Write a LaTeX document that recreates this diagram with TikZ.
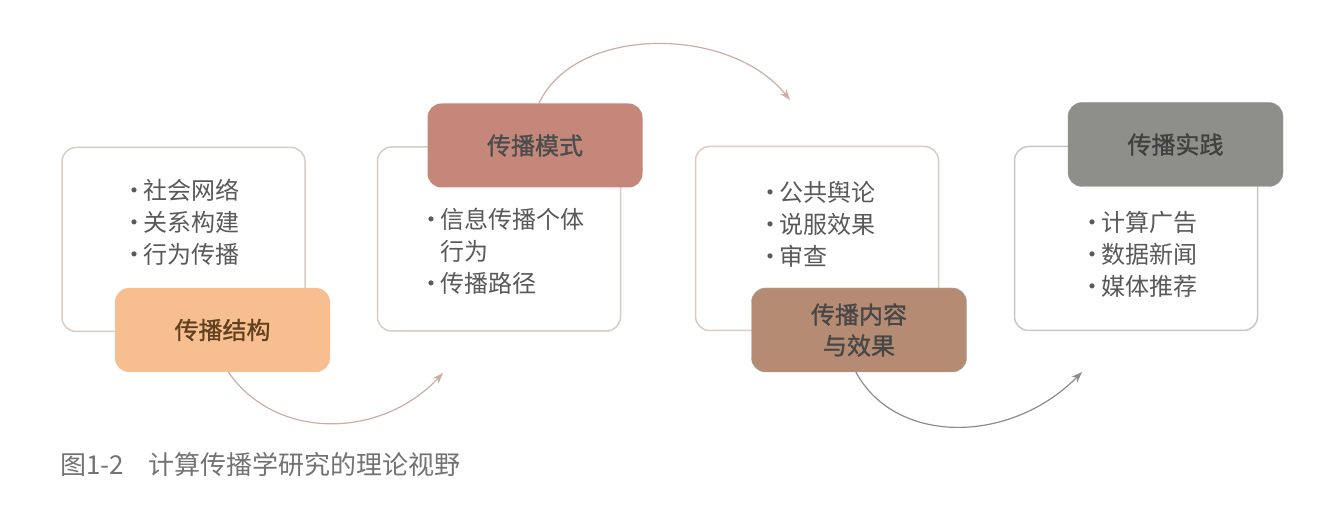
\documentclass[tikz,border=0pt]{standalone}
\usepackage{fontspec}
\usepackage{xcolor}
\usepackage{tikz}
\usetikzlibrary{arrows.meta}
\newfontfamily\cjk{Noto Sans CJK SC}
\newfontfamily\cjkb[FakeBold=1.2]{Noto Sans CJK SC}
\definecolor{ffbbqq}{rgb}{0.97,0.75,0.56}
\definecolor{ccttrr}{rgb}{0.77,0.53,0.48}
\definecolor{bbuutt}{rgb}{0.71,0.55,0.45}
\definecolor{ttttss}{rgb}{0.56,0.56,0.54}
\definecolor{wwwwww}{rgb}{0.35,0.35,0.35}
\definecolor{ddcccc}{rgb}{0.86,0.80,0.76}
\definecolor{aassrr}{rgb}{0.80,0.68,0.66}
\newcommand\itm{\makebox[22pt][l]{\hspace{1pt}·}}

\begin{document}
\begin{tikzpicture}[line cap=round,line join=round,x=1pt,y=-1pt,
  panel/.style={draw=ddcccc,line width=1.5pt,fill=white,rounded corners=14pt,minimum width=243pt,minimum height=184pt},
  tag/.style={rounded corners=14pt,minimum width=215pt,minimum height=84pt,align=center,font=\cjkb\fontsize{24}{31}\selectfont},
  items/.style={align=left,text=wwwwww,font=\cjk\fontsize{24}{32}\selectfont},
  link/.style={draw=aassrr,line width=1.2pt,-{Stealth[length=11pt,width=8pt]}}]
\useasboundingbox[fill=white] (0,0) rectangle (1336,526);
% panels
\node[panel] (box1) at (183.5,239.5) {};
\node[panel] (box2) at (499,239) {};
\node[panel] (box3) at (817,238.5) {};
\node[panel,draw=black!22] (box4) at (1136,238.5) {};
% labels
\node[tag,fill=ffbbqq,text=black!50!brown] (tag1) at (222.5,330) {传播结构};
\node[tag,fill=ccttrr,text=black!70] (tag2) at (535,145.5) {传播模式};
\node[tag,fill=bbuutt,draw=black!35,text=black!72] (tag3) at (859,330) {传播内容\\与效果};
\node[tag,fill=ttttss,draw=black!40,text=black!75] (tag4) at (1175.5,144.5) {传播实践};
% lists
\node[items] (l1) at (180,222) {\itm 社会网络\\\itm 关系构建\\\itm 行为传播};
\node[items] (l2) at (501,251) {\itm 信息传播个体\\\hspace*{22pt}行为\\\itm 传播路径};
\node[items] (l3) at (816,224) {\itm 公共舆论\\\itm 说服效果\\\itm 审查};
\node[items] (l4) at (1138,254) {\itm 计算广告\\\itm 数据新闻\\\itm 媒体推荐};
% arrows
\coordinate (e1) at (443,373);
\coordinate (e2) at (790,100);
\coordinate (e3) at (1082,372);
\draw[link] ([xshift=6pt]tag1.south) .. controls (275,440) and (380,440) .. (e1);
\draw[link] ([xshift=4pt]tag2.north) .. controls (575,25) and (730,25) .. (e2);
\draw[link,draw=black!45] ([xshift=-3pt]tag3.south) .. controls (895,445) and (1010,445) .. (e3);
% caption
\node[anchor=west,text=black!55,font=\cjk\fontsize{26}{30}\selectfont] (cap) at (57,465) {图1-2\hspace{24pt}计算传播学研究的理论视野};
\end{tikzpicture}
\end{document}
